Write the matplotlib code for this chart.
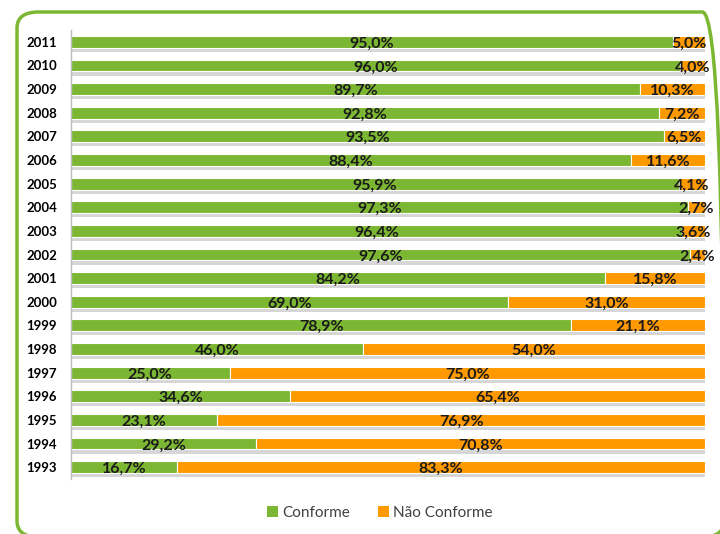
import matplotlib
matplotlib.use("Agg")
from matplotlib import pyplot as plt
from matplotlib.patches import FancyBboxPatch, Patch
import matplotlib.patheffects as pe

plt.rcParams['font.family'] = ['Lato', 'DejaVu Sans']

years = [1993, 1994, 1995, 1996, 1997, 1998, 1999, 2000, 2001, 2002,
         2003, 2004, 2005, 2006, 2007, 2008, 2009, 2010, 2011]
conforme = [16.7, 29.2, 23.1, 34.6, 25.0, 46.0, 78.9, 69.0, 84.2, 97.6,
            96.4, 97.3, 95.9, 88.4, 93.5, 92.8, 89.7, 96.0, 95.0]
nao_conforme = [83.3, 70.8, 76.9, 65.4, 75.0, 54.0, 21.1, 31.0, 15.8, 2.4,
                3.6, 2.7, 4.1, 11.6, 6.5, 7.2, 10.3, 4.0, 5.0]

GREEN = '#7cb733'
ORANGE = '#ff9900'

W, H = 720, 534
fig = plt.figure(figsize=(7.2, 5.34), dpi=100)

# rounded green frame (cut off at right/bottom like the original)
frame = FancyBboxPatch((17 / W, 1 - 537 / H), 707 / W, 525 / H,
                       boxstyle="round,pad=0,rounding_size=0.03",
                       transform=fig.transFigure, facecolor='none',
                       edgecolor=GREEN, linewidth=2.5, zorder=-1)
fig.patches.append(frame)

ax = fig.add_axes([71 / W, 1 - 479 / H, 634 / W, 449 / H])
ax.set_facecolor('none')

pos = list(range(len(years)))
shadow = [pe.SimplePatchShadow(offset=(0, -3), shadow_rgbFace='#999999', alpha=0.4), pe.Normal()]
ax.barh(pos, conforme, height=0.5, color=GREEN, edgecolor='white', linewidth=0.8,
        path_effects=shadow)
ax.barh(pos, nao_conforme, left=conforme, height=0.5, color=ORANGE, edgecolor='white',
        linewidth=0.8, path_effects=shadow)

for i in pos:
    ax.text(conforme[i] / 2, i - 0.08, f"{conforme[i]:.1f}%".replace('.', ','),
            ha='center', va='center', fontsize=11.5, fontweight='bold', color='#1a1a1a')
    ax.text(conforme[i] + nao_conforme[i] / 2, i - 0.08, f"{nao_conforme[i]:.1f}%".replace('.', ','),
            ha='center', va='center', fontsize=11.5, fontweight='bold', color='#1a1a1a')

ax.set_xlim(0, 100)
ax.set_ylim(-0.5, len(years) - 0.5)
ax.set_yticks(pos)
ax.set_yticklabels([str(y) for y in years], fontsize=9.5, fontweight='bold')
ax.tick_params(axis='y', length=0, pad=10)
ax.set_xticks([])
for s in ['top', 'right', 'bottom']:
    ax.spines[s].set_visible(False)
ax.spines['left'].set_color('#bbbbbb')
ax.spines['left'].set_linewidth(1)

handles = [Patch(facecolor=GREEN, label='Conforme'), Patch(facecolor=ORANGE, label='Não Conforme')]
fig.legend(handles=handles, loc='center', bbox_to_anchor=(380 / W, 1 - 513 / H),
           ncol=2, frameon=False, fontsize=11, handlelength=0.7, handleheight=0.7,
           handletextpad=0.3, columnspacing=1.8, labelcolor='#404040')

fig.savefig('out.png', dpi=100)
